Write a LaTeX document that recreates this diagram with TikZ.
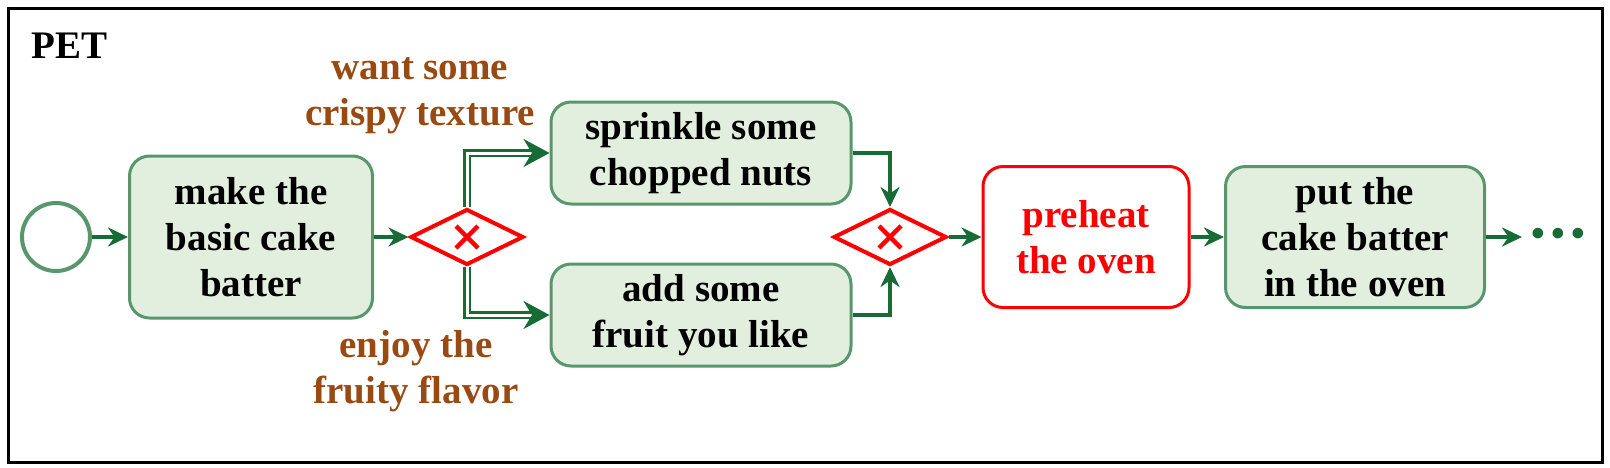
\documentclass[tikz,border=0pt]{standalone}
\usepackage{fontspec}
\setmainfont{Liberation Serif}
\usetikzlibrary{shapes.geometric,arrows.meta}
\definecolor{taskline}{RGB}{88,150,108}
\definecolor{taskfill}{RGB}{226,238,222}
\definecolor{flowgreen}{RGB}{22,108,52}
\definecolor{condbrown}{RGB}{153,74,18}
\definecolor{hot}{RGB}{255,0,0}

\begin{document}
\begin{tikzpicture}[x=1pt, y=-1pt, font=\fontsize{39}{46}\selectfont\bfseries,
    task/.style={draw=taskline, fill=taskfill, line width=3pt, rounded corners=20pt, align=center, inner sep=0pt},
    gate/.style={diamond, draw=hot, line width=4pt, minimum width=113pt, minimum height=56pt, inner sep=0pt,
        path picture={\draw[hot, line width=4.5pt]
            ([shift={(-11pt,-11pt)}]path picture bounding box.center) -- ([shift={(11pt,11pt)}]path picture bounding box.center)
            ([shift={(-11pt,11pt)}]path picture bounding box.center) -- ([shift={(11pt,-11pt)}]path picture bounding box.center);}},
    flow/.style={draw=flowgreen, line width=3.5pt, -{Stealth[length=20pt,width=19pt]}},
    choice/.style={draw=flowgreen, line width=2.5pt, double=white, double distance=3pt, -{Stealth[length=26pt,width=28pt]}},
    cond/.style={text=condbrown, align=center}]
    \useasboundingbox (0,0) rectangle (1610,467);
    \draw[line width=3pt] (8,8) rectangle (1602,462);
    \node[anchor=west] (pet) at (28,46) {PET};
    \node[circle, draw=taskline, line width=4pt, minimum size=68pt, inner sep=0pt] (s) at (56,237) {};
    \node[task, minimum width=243pt, minimum height=162pt] (t1) at (251,237) {make the\\basic cake\\batter};
    \node[gate] (g1) at (467,237) {};
    \node[task, minimum width=300pt, minimum height=102pt] (t2) at (701,153) {sprinkle some\\chopped nuts};
    \node[task, minimum width=300pt, minimum height=102pt] (t3) at (701,315) {add some\\fruit you like};
    \node[gate] (g2) at (890,237) {};
    \node[task, draw=hot, fill=white, text=hot, minimum width=206pt, minimum height=141pt] (t4) at (1086,237) {preheat\\the oven};
    \node[task, minimum width=259pt, minimum height=141pt] (t5) at (1355,237) {put the\\cake batter\\in the oven};
    \node[text=flowgreen, inner sep=0pt] (more) at (1558,237) {\textbullet\hspace{6.3pt}\textbullet\hspace{6.3pt}\textbullet};
    \node[cond] (c1) at (420,96) {want some\\crispy texture};
    \node[cond] (c2) at (416,371) {enjoy the\\fruity flavor};
    \foreach \from/\to in {s/t1, t1/g1, g2/t4, t4/t5}
        \draw[flow] (\from) -- (\to);
    \draw[flow, shorten >=9pt] (t5) -- (more);
    \draw[flow] (t2.east) -| (g2.north);
    \draw[flow] (t3.east) -| (g2.south);
    \draw[choice] (g1.north) |- (t2.west);
    \draw[choice] (g1.south) |- (t3.west);
\end{tikzpicture}
\end{document}
